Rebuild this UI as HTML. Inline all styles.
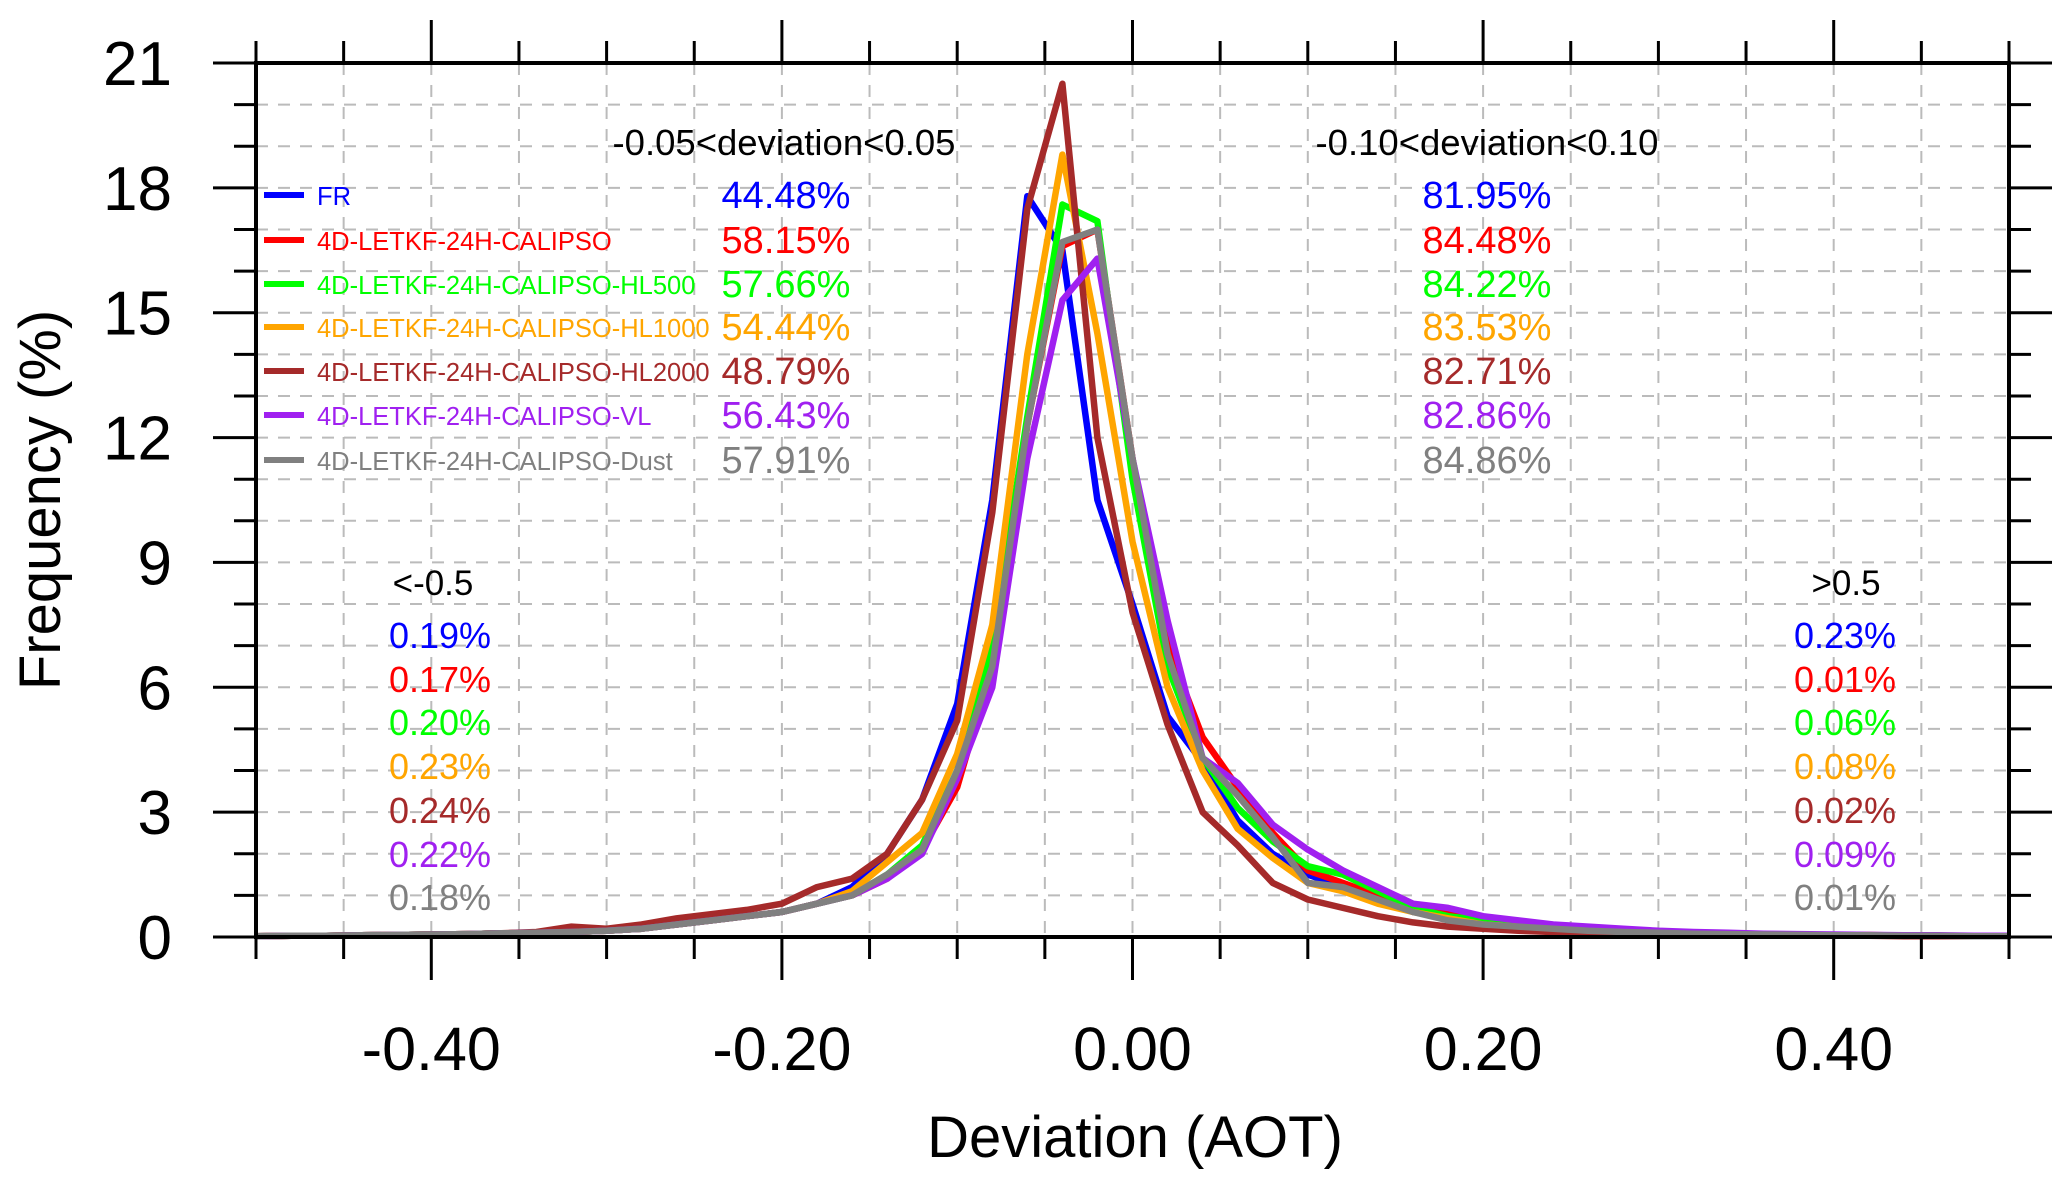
<!DOCTYPE html>
<html><head><meta charset="utf-8"><style>
html,body{margin:0;padding:0;background:#fff;}
svg{display:block;font-family:"Liberation Sans",sans-serif;}
</style></head><body>
<svg id="chart" width="2067" height="1180" viewBox="0 0 2067 1180" xmlns="http://www.w3.org/2000/svg"></svg>
<script>
const xValues = [];
for (let i = 0; i <= 50; i++) xValues.push(-0.5 + i * 0.02);
const seriesNames = ["FR","4D-LETKF-24H-CALIPSO","4D-LETKF-24H-CALIPSO-HL500","4D-LETKF-24H-CALIPSO-HL1000","4D-LETKF-24H-CALIPSO-HL2000","4D-LETKF-24H-CALIPSO-VL","4D-LETKF-24H-CALIPSO-Dust"];
const seriesColors = ["#0000ff","#ff0000","#00ff00","#ffa500","#a52a2a","#a020f0","#808080"];
const frValues = [0.02,0.03,0.03,0.04,0.05,0.06,0.07,0.09,0.1,0.12,0.15,0.2,0.3,0.4,0.5,0.6,0.8,1.2,2.0,3.3,5.6,10.5,17.8,16.5,10.5,8.0,5.3,4.2,2.8,2.0,1.5,1.2,0.9,0.6,0.5,0.35,0.25,0.2,0.15,0.12,0.1,0.08,0.07,0.06,0.05,0.04,0.04,0.03,0.03,0.02,0.02];
const redValues = [0.02,0.03,0.03,0.04,0.05,0.06,0.07,0.09,0.1,0.12,0.15,0.2,0.3,0.4,0.5,0.6,0.8,1.0,1.4,2.1,3.6,6.5,12.3,16.6,17.0,11.5,7.0,4.8,3.6,2.5,1.6,1.3,1.0,0.7,0.6,0.4,0.25,0.2,0.15,0.12,0.1,0.08,0.07,0.06,0.05,0.04,0.04,0.03,0.03,0.02,0.02];
const hl500Values = [0.02,0.03,0.03,0.04,0.05,0.06,0.07,0.09,0.1,0.12,0.15,0.2,0.3,0.4,0.5,0.6,0.8,1.0,1.5,2.2,4.0,7.0,12.5,17.6,17.2,11.0,6.5,4.3,3.1,2.3,1.7,1.5,1.1,0.7,0.5,0.4,0.25,0.2,0.15,0.12,0.1,0.08,0.07,0.06,0.05,0.04,0.04,0.03,0.03,0.02,0.02];
const hl1000Values = [0.02,0.03,0.03,0.04,0.05,0.06,0.07,0.09,0.1,0.12,0.15,0.2,0.3,0.4,0.5,0.6,0.8,1.1,1.8,2.5,4.4,7.5,14.0,18.8,14.5,9.5,6.0,4.0,2.6,1.9,1.3,1.1,0.8,0.6,0.45,0.3,0.25,0.2,0.15,0.12,0.1,0.08,0.07,0.06,0.05,0.04,0.05,0.03,0.03,0.02,0.02];
const hl2000Values = [0.02,0.03,0.03,0.04,0.05,0.06,0.07,0.09,0.12,0.25,0.2,0.3,0.45,0.55,0.65,0.8,1.2,1.4,2.0,3.3,5.2,10.2,17.5,20.5,12.0,7.8,5.1,3.0,2.2,1.3,0.9,0.7,0.5,0.35,0.25,0.2,0.15,0.12,0.1,0.08,0.07,0.06,0.05,0.04,0.04,0.03,0.03,0.02,0.02,0.02,0.02];
const vlValues = [0.02,0.03,0.03,0.04,0.05,0.06,0.07,0.09,0.1,0.12,0.15,0.2,0.3,0.4,0.5,0.6,0.8,1.0,1.4,2.0,3.8,6.0,11.5,15.3,16.3,11.5,7.6,4.3,3.7,2.7,2.1,1.6,1.2,0.8,0.7,0.5,0.4,0.3,0.25,0.2,0.15,0.12,0.1,0.08,0.07,0.06,0.05,0.04,0.04,0.03,0.03];
const dustValues = [0.02,0.03,0.03,0.04,0.05,0.06,0.07,0.09,0.1,0.12,0.15,0.2,0.3,0.4,0.5,0.6,0.8,1.0,1.5,2.1,4.0,6.5,12.3,16.7,17.0,11.5,6.8,4.3,3.4,2.4,1.3,1.2,0.9,0.6,0.4,0.3,0.25,0.2,0.15,0.12,0.1,0.08,0.07,0.06,0.05,0.04,0.04,0.03,0.03,0.02,0.02];
const allSeries = [frValues,redValues,hl500Values,hl1000Values,hl2000Values,vlValues,dustValues];
const yTickLabels = ["0","3","6","9","12","15","18","21"];
const xTickLabels = ["-0.40","-0.20","0.00","0.20","0.40"];
const innerPct = ["44.48%","58.15%","57.66%","54.44%","48.79%","56.43%","57.91%"];
const outerPct = ["81.95%","84.48%","84.22%","83.53%","82.71%","82.86%","84.86%"];
const lowPct = ["0.19%","0.17%","0.20%","0.23%","0.24%","0.22%","0.18%"];
const highPct = ["0.23%","0.01%","0.06%","0.08%","0.02%","0.09%","0.01%"];

const NS="http://www.w3.org/2000/svg";
const svg=document.getElementById('chart');
const X0=256,X1=2009,Y0=63,Y1=937;
const xs=v=>X0+(v+0.5)/1.0*(X1-X0);
const ys=v=>Y1-v/21*(Y1-Y0);
function el(tag,attrs,parent){const e=document.createElementNS(NS,tag);for(const k in attrs)e.setAttribute(k,attrs[k]);(parent||svg).appendChild(e);return e;}
function txt(s,x,y,size,color,anchor){const t=el('text',{x:x,y:y,'font-size':size,fill:color,'text-anchor':anchor||'start'});t.textContent=s;return t;}

const grid=el('g',{});


for(let i=1;i<20;i++){const x=xs(-0.5+i*0.05);el('line',{x1:x,y1:Y0,x2:x,y2:Y1,stroke:'#bbb','stroke-width':2,'stroke-dasharray':'12,10'},grid);}
for(let v=1;v<21;v++){el('line',{x1:X0,y1:ys(v),x2:X1,y2:ys(v),stroke:'#bbb','stroke-width':2,'stroke-dasharray':'12,10'},grid);}

allSeries.forEach((vals,si)=>{
  const pts=vals.map((v,i)=>xs(xValues[i]).toFixed(1)+','+ys(v).toFixed(1)).join(' ');
  const p=el('polyline',{points:pts,fill:'none',stroke:seriesColors[si],'stroke-width':6.5,'stroke-linejoin':'round'});
  
  
});

const ax=el('g',{stroke:'#000'});


el('rect',{x:X0,y:Y0,width:X1-X0,height:Y1-Y0,fill:'none','stroke-width':4},ax);
for(let i=0;i<=20;i++){const v=-0.5+i*0.05;const x=xs(v);const major=Math.abs(Math.round(v*100)%20)===0&&Math.abs(v)<0.45;const L=major?43:22;
  el('line',{x1:x,y1:Y1,x2:x,y2:Y1+L,'stroke-width':3},ax);
  el('line',{x1:x,y1:Y0,x2:x,y2:Y0-L,'stroke-width':3},ax);}
for(let v=0;v<=21;v++){const y=ys(v);const L=v%3===0?43:22;
  el('line',{x1:X0,y1:y,x2:X0-L,y2:y,'stroke-width':3},ax);
  el('line',{x1:X1,y1:y,x2:X1+L,y2:y,'stroke-width':3},ax);}
yTickLabels.forEach((s,i)=>{const t=txt(s,172,ys(i*3)+22,62,'#000','end');
  
  });
xTickLabels.forEach((s,i)=>{const t=txt(s,xs(-0.4+i*0.2),1070,61,'#000','middle');
  
  });
const xt=txt('Deviation (AOT)',1135,1157,58,'#000','middle');


const yt=txt('Frequency (%)',0,0,58,'#000','middle');
yt.setAttribute('transform','translate(60,500) rotate(-90)');



const rowY=[195,240,284,327,371,415,460];
seriesNames.forEach((n,i)=>{
  const g=el('g',{});
  
  
  el('line',{x1:264,y1:rowY[i],x2:304,y2:rowY[i],stroke:seriesColors[i],'stroke-width':6},g);
  const t=txt(n,317,rowY[i]+10,25.5,seriesColors[i]);g.appendChild(t);
  const a=txt(innerPct[i],786,rowY[i]+13,38,seriesColors[i],'middle');
  
  
  const b=txt(outerPct[i],1487,rowY[i]+13,38,seriesColors[i],'middle');
  
  
});
const lowY=[636,680,723,767,811,855,898];
lowPct.forEach((s,i)=>{const a=txt(s,440,lowY[i]+12,36,seriesColors[i],'middle');
  
  
  const b=txt(highPct[i],1845,lowY[i]+12,36,seriesColors[i],'middle');
  
  });
const h1=txt('-0.05<deviation<0.05',784,155,36.5,'#000','middle');


const h2=txt('-0.10<deviation<0.10',1487,155,36.5,'#000','middle');


const h3=txt('<-0.5',433,595,35,'#000','middle');


const h4=txt('>0.5',1846,595,35,'#000','middle');


</script>
</body></html>
